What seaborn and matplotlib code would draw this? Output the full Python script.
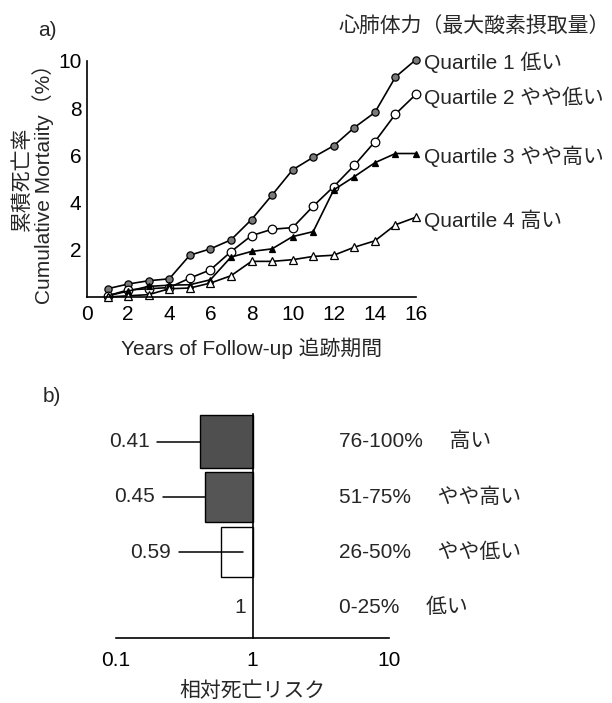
import numpy as np
import pandas as pd
import matplotlib
matplotlib.use("Agg")
import matplotlib.pyplot as plt
import seaborn as sns

# ---------------- data ----------------
years = list(range(1, 17))
q1 = [0.35, 0.55, 0.69, 0.77, 1.77, 2.04, 2.42, 3.28, 4.32, 5.39, 5.92, 6.41, 7.18, 7.82, 9.32, 10.06]
q2 = [0.05, 0.30, 0.35, 0.40, 0.80, 1.15, 1.92, 2.60, 2.87, 2.94, 3.85, 4.68, 5.58, 6.58, 7.75, 8.59]
q3 = [0.05, 0.25, 0.45, 0.50, 0.52, 0.73, 1.69, 1.93, 2.04, 2.56, 2.77, 4.54, 5.10, 5.69, 6.08, 6.08]
q4 = [0.00, 0.05, 0.10, 0.35, 0.38, 0.59, 0.90, 1.51, 1.51, 1.58, 1.72, 1.77, 2.11, 2.38, 3.06, 3.38]
series_labels = ["Quartile 1 低い", "Quartile 2 やや低い", "Quartile 3 やや高い", "Quartile 4 高い"]

xticks_a = [0, 2, 4, 6, 8, 10, 12, 14, 16]
yticks_a = [2, 4, 6, 8, 10]

rr_categories = ["76-100%　 高い", "51-75%　 やや高い", "26-50%　 やや低い", "0-25%　 低い"]
rr_values = [0.41, 0.45, 0.59, 1.0]
rr_ticks = [0.1, 1, 10]
rr_ticklabels = ["0.1", "1", "10"]

# ---------------- style ----------------
sns.set_style("white")
plt.rcParams["font.family"] = ["Liberation Sans", "Noto Sans CJK JP"]
plt.rcParams["axes.unicode_minus"] = False

FS = 15
fig = plt.figure(figsize=(6.12, 7.03), dpi=100)

# ---------------- panel a ----------------
ax = fig.add_axes([87 / 612, 1 - 297 / 703, 329 / 612, 236 / 703])
styles = [
    dict(marker="o", markerfacecolor="#7a7a7a", markersize=5.2),
    dict(marker="o", markerfacecolor="white", markersize=6.2),
    dict(marker="^", markerfacecolor="black", markersize=4.3),
    dict(marker="^", markerfacecolor="white", markersize=5.5),
]
for vals, st, lab in zip([q1, q2, q3, q4], styles, series_labels):
    df = pd.DataFrame({"year": years, "value": vals})
    sns.lineplot(data=df, x="year", y="value", ax=ax, color="black", lw=1.2,
                 markeredgecolor="black", markeredgewidth=0.9, clip_on=False, **st)
    ax.text(16.39, vals[-1] - 0.12, lab, fontsize=FS, ha="left", va="center")

ax.set_xlim(0, 16)
ax.set_ylim(0, 10)
ax.set_xticks(xticks_a)
ax.set_xticklabels([str(t) for t in xticks_a], fontsize=FS)
ax.set_yticks(yticks_a)
ax.set_yticklabels([str(t) for t in yticks_a], fontsize=FS)
ax.tick_params(axis="x", direction="in", length=7, width=1, pad=6, colors="black")
ax.tick_params(axis="y", direction="in", length=5, width=1, pad=4, colors="black")
for s in ["top", "right"]:
    ax.spines[s].set_visible(False)
for s in ["left", "bottom"]:
    ax.spines[s].set_color("black")
    ax.spines[s].set_linewidth(1.2)
ax.set_xlabel("Years of Follow-up 追跡期間", fontsize=FS)
ax.xaxis.set_label_coords(0.5, -0.17)
ax.set_ylabel("累積死亡率\nCumulative Mortaiity（%）", fontsize=15, linespacing=1.0)
ax.yaxis.set_label_coords(-0.1, 0.5)

fig.text(38 / 612, 1 - 31 / 703, "a)", fontsize=FS, ha="left", va="center")
fig.text(0.997, 1 - 26 / 703, "心肺体力（最大酸素摂取量）", fontsize=FS, ha="right", va="center")

# ---------------- panel b ----------------
bx = fig.add_axes([116 / 612, 1 - 638 / 703, 273 / 612, 224 / 703])
bx.set_xscale("log")
ypos = np.arange(len(rr_categories))
bar_colors = ["#4f4f4f", "#555555", "white"]
bar_heights = [0.95, 0.9, 0.9]
connector_end = [None, None, 0.85]
for i, rr in enumerate(rr_values):
    if rr < 1:
        bx.barh(ypos[i], 1 - rr, left=rr, height=bar_heights[i], color=bar_colors[i],
                edgecolor="black", linewidth=1.0, zorder=2)
        end = connector_end[i] if connector_end[i] is not None else rr
        bx.plot([rr * 0.49, end], [ypos[i], ypos[i]], color="black", lw=1.1, zorder=3)
        bx.text(rr * 0.43, ypos[i], f"{rr:.2f}", fontsize=FS, ha="right", va="center")
    else:
        bx.text(0.9, ypos[i], "1", fontsize=FS, ha="right", va="center")
    bx.text(4.3, ypos[i], rr_categories[i], fontsize=FS, ha="left", va="center")

bx.set_xlim(0.1, 10)
bx.set_ylim(3.55, -0.5)
bx.set_xticks(rr_ticks)
bx.set_xticklabels(rr_ticklabels, fontsize=FS)
bx.xaxis.set_minor_locator(matplotlib.ticker.NullLocator())
bx.set_yticks([-0.5, 0.5, 1.5, 2.5])
bx.set_yticklabels([])
bx.tick_params(axis="x", direction="in", length=5, width=1, pad=9, colors="black")
bx.tick_params(axis="y", direction="in", length=6, width=1, colors="black")
bx.spines["left"].set_position(("data", 1))
bx.spines["left"].set_bounds(-0.5, 3.55)
for s in ["top", "right"]:
    bx.spines[s].set_visible(False)
for s in ["left", "bottom"]:
    bx.spines[s].set_color("black")
    bx.spines[s].set_linewidth(1.2)
bx.set_xlabel("相対死亡リスク", fontsize=FS)
bx.xaxis.set_label_coords(0.5, -0.19)
bx.set_ylabel("")

fig.text(43 / 612, 1 - 397 / 703, "b)", fontsize=FS, ha="left", va="center")

fig.savefig("out.png", dpi=100)
